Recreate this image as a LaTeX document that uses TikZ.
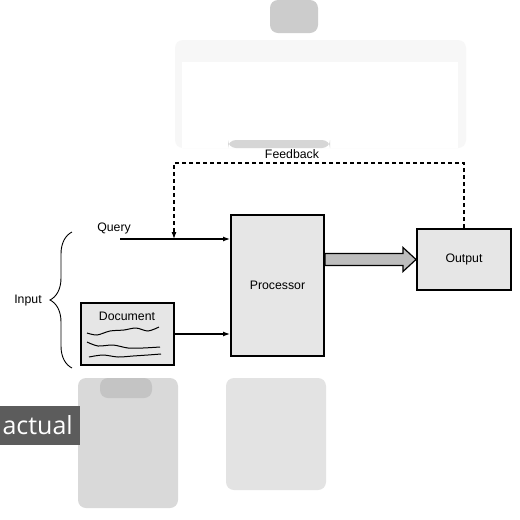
\documentclass[tikz,border=0pt]{standalone}
\usepackage{fontspec}
\setmainfont{Liberation Sans}
\newfontfamily\tagfont{Open Sans}
\usetikzlibrary{arrows.meta}
\usetikzlibrary{decorations.pathreplacing}
\usetikzlibrary{positioning}
\definecolor{boxgray}{HTML}{E6E6E6}
\definecolor{fatgray}{HTML}{BDBDBD}
\definecolor{taggray}{HTML}{5C5C5C}
\tikzset{x=1pt, y=-1pt, % one unit per pixel, y going down
>={Latex[length=7pt,width=5pt]}, % filled arrow heads
block/.style={draw, line width=2pt, fill=boxgray, inner sep=0pt}, % the boxes
wire/.style={->, line width=1.2pt}, % plain connectors
feedback/.style={->, line width=1.1pt, dash pattern=on 4pt off 3pt}, % dashed loop back
fatarrow/.style={draw, line width=1.2pt, fill=fatgray}, % the thick output arrow
blur/.style={rounded corners=8pt}, % the soft shapes behind
}

\begin{document}
\begin{tikzpicture}[font=\fontsize{12.3}{14}\selectfont]
\useasboundingbox[fill=white] (0,0) rectangle (520,520);

% soft background shapes
\fill[blur, black!3] (175,40) rectangle (466,148);
\fill[white] (182,62) rectangle (458,148);
\fill[blur, black!20] (270,0) rectangle (318,33);
\fill[blur, black!16] (228,140) rectangle (330,148);
\fill[blur, black!15] (78,378) rectangle (178,508);
\fill[blur, black!23] (100,378) rectangle (152,398);
\fill[blur, black!11] (226,378) rectangle (326,490);

\node[block, minimum width=93pt, minimum height=141pt] (proc) at (277.5,285.5) {Processor};
\node[block, minimum width=94pt, minimum height=61pt] (out) at (464,259.5) {Output};
\node[block, minimum width=93pt, minimum height=62pt] (doc) at (127.5,334) {};
\node (doctitle) at (127,316) {Document};
\node (query) at (114,228) {Query};
\node (input) at (28,301) {Input};
\node (fblabel) at (292,154) {Feedback};
\coordinate (qstart) at (120,239);
\coordinate (fbend) at (174,239);

% scribbled text in the document
\draw[line width=1pt] plot[smooth] coordinates {(87,333) (97,335) (110,331) (124,330) (136,328) (148,331) (159,327)};
\draw[line width=1pt] plot[smooth] coordinates {(87,342) (98,346) (113,345) (128,348) (143,348) (160,347)};
\draw[line width=1pt] plot[smooth] coordinates {(89,357) (103,355) (118,357) (133,356) (148,355) (161,354)};

\draw[wire] (qstart) -- (qstart -| proc.west);
\draw[wire] (doc.east) -- (doc.east -| proc.west);
\draw[feedback] (out.north) -- (out.north |- 0,163) -| (fbend);
\draw[fatarrow] (proc.east |- out.west) ++(0,-6) -- ++(78,0) -- ++(0,-6) -- (out.west)
  -- ++(-13,12) -- ++(0,-6) -- ++(-78,0) -- cycle;

\draw[decorate, decoration={brace, amplitude=22pt}, line width=0.9pt] (72,368) -- (72,232);

\node[fill=taggray, text=white, font=\tagfont\fontsize{25}{27}\selectfont,
  minimum height=39pt, inner xsep=7pt, anchor=east] (tag) at (80,425.5) {actual};
\end{tikzpicture}
\end{document}
